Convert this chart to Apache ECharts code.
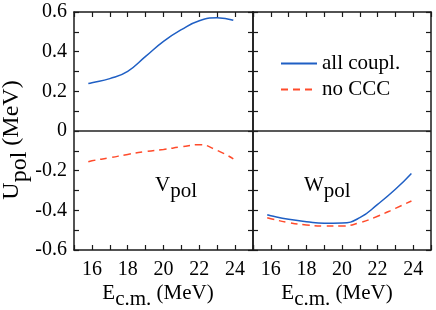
<!DOCTYPE html>
<html>
<head>
<meta charset="utf-8">
<script src="https://cdn.jsdelivr.net/npm/echarts@6/dist/echarts.min.js"></script>
<style>html,body{margin:0;padding:0;background:#fff;}#c{width:436px;height:310px;}</style>
</head>
<body>
<div id="c"></div>
<script>
// ---- data ----
var energyV = [15.8, 16, 17, 18, 19, 20, 21, 22, 23, 23.9];
var vAllCoupl = [0.239, 0.243, 0.264, 0.301, 0.376, 0.452, 0.511, 0.556, 0.571, 0.558];
var vNoCCC = [-0.155, -0.150, -0.135, -0.118, -0.104, -0.093, -0.080, -0.069, -0.098, -0.140];
var energyW = [15.8, 16, 17, 18, 19, 20, 21, 22, 23, 23.9];
var wAllCoupl = [-0.422, -0.427, -0.445, -0.457, -0.465, -0.464, -0.437, -0.370, -0.294, -0.214];
var wNoCCC = [-0.437, -0.442, -0.462, -0.474, -0.479, -0.479, -0.462, -0.430, -0.390, -0.353];
var xTickLabels = [16, 18, 20, 22, 24];
var yTickLabels = [-0.6, -0.4, -0.2, 0, 0.2, 0.4, 0.6];
var seriesNames = ['all coupl.', 'no CCC'];

var FONT = 'Liberation Serif';
var BLUE = '#1f5fc4';
var RED = '#ff4b2b';
var AX = '#1a1a1a';

function pairs(xs, ys) { return xs.map(function (x, i) { return [x, ys[i]]; }); }

function xFmt(v) { return xTickLabels.indexOf(Math.round(v)) >= 0 && Math.abs(v - Math.round(v)) < 1e-6 ? String(Math.round(v)) : ''; }
function yFmt(v) {
  var t = Math.round(v * 10) / 10;
  for (var i = 0; i < yTickLabels.length; i++) if (Math.abs(yTickLabels[i] - t) < 1e-6) return String(yTickLabels[i]);
  return '';
}

function xAx(grid, pos, labels) {
  return {
    type: 'value', gridIndex: grid, position: pos, min: 15, max: 25, interval: 1,
    axisLine: { show: true, onZero: false, lineStyle: { color: AX, width: 1.5 } },
    axisTick: { show: true, inside: true, length: 5, lineStyle: { color: AX, width: 1.2 } },
    axisLabel: { show: labels, formatter: xFmt, fontFamily: FONT, fontSize: 20, color: '#000', margin: 10 },
    splitLine: { show: false }
  };
}
function yAx(grid, pos, labels) {
  return {
    type: 'value', gridIndex: grid, position: pos, min: -0.6, max: 0.6, interval: 0.1,
    axisLine: { show: true, onZero: false, lineStyle: { color: AX, width: 1.5 } },
    axisTick: { show: true, inside: true, length: 5, lineStyle: { color: AX, width: 1.2 } },
    axisLabel: { show: labels, formatter: yFmt, fontFamily: FONT, fontSize: 20, color: '#000', margin: 7 },
    splitLine: { show: false }
  };
}

var zeroLine = {
  silent: true, symbol: 'none', label: { show: false },
  lineStyle: { color: '#222', width: 1.5, type: 'solid' },
  data: [{ yAxis: 0 }]
};

function lineSeries(name, xi, yi, data, color, dashed, withZero) {
  var s = {
    name: name, type: 'line', xAxisIndex: xi, yAxisIndex: yi,
    data: data, smooth: true, symbol: 'none', showSymbol: false,
    lineStyle: { color: color, width: 1.5, type: dashed ? [7, 5] : 'solid' },
    itemStyle: { color: color }
  };
  if (withZero) s.markLine = zeroLine;
  return s;
}

var chart = echarts.init(document.getElementById('c'), null, { renderer: 'canvas' });

function rich(size) {
  return {
    m: { fontFamily: FONT, fontSize: size, fill: '#000' },
    s: { fontFamily: FONT, fontSize: size, fill: '#000', padding: [Math.round(size * 0.62), 0, 0, 0] }
  };
}

function richText(x, y, str, rot, align, size) {
  size = size || 21;
  return {
    type: 'text', x: x, y: y, rotation: rot || 0, silent: true,
    style: {
      text: str, rich: rich(size), align: align || 'center', verticalAlign: 'middle',
      fontFamily: FONT, fontSize: size, fill: '#000'
    }
  };
}

chart.setOption({
  animation: false,
  backgroundColor: '#fff',
  textStyle: { fontFamily: FONT },
  grid: [
    { left: 74, top: 12, width: 179, height: 238 },
    { left: 253, top: 12, width: 178, height: 238 }
  ],
  xAxis: [xAx(0, 'bottom', true), xAx(0, 'top', false), xAx(1, 'bottom', true), xAx(1, 'top', false)],
  yAxis: [yAx(0, 'left', true), yAx(0, 'right', false), yAx(1, 'left', false), yAx(1, 'right', false)],
  legend: {
    data: seriesNames, orient: 'vertical', left: 280, top: 53, padding: 0,
    itemWidth: 36, itemHeight: 14, itemGap: 5,
    itemStyle: { opacity: 0 },
    textStyle: { fontFamily: FONT, fontSize: 21, color: '#000' }
  },
  series: [
    lineSeries(seriesNames[0], 0, 0, pairs(energyV, vAllCoupl), BLUE, false, true),
    lineSeries(seriesNames[1], 0, 0, pairs(energyV, vNoCCC), RED, true, false),
    lineSeries(seriesNames[0], 2, 2, pairs(energyW, wAllCoupl), BLUE, false, true),
    lineSeries(seriesNames[1], 2, 2, pairs(energyW, wNoCCC), RED, true, false)
  ],
  graphic: [
    richText(155, 185, '{m|V}{s|pol}', 0, 'left', 21),
    richText(304, 185, '{m|W}{s|pol}', 0, 'left', 21),
    richText(158, 293, '{m|E}{s|c.m.}{m| (MeV)}', 0, 'center', 21),
    richText(337, 293, '{m|E}{s|c.m.}{m| (MeV)}', 0, 'center', 21),
    richText(12, 140, '{m|U}{s|pol}{m| (MeV)}', Math.PI / 2, 'center', 24)
  ]
});
</script>
</body>
</html>
